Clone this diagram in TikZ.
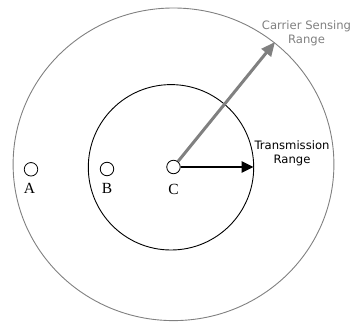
\documentclass[tikz,border=0pt]{standalone}
\usepackage{fontspec}
\setmainfont{Liberation Serif}
\newfontfamily\dejavu{DejaVu Sans}
\usetikzlibrary{arrows.meta}
\definecolor{midgray}{RGB}{128,128,128}
\tikzset{
  station/.style={circle,draw=black,line width=0.8pt,fill=white,minimum size=13.5pt,inner sep=0pt},
  stlabel/.style={font=\fontsize{15.5}{15.5}\selectfont,inner sep=0pt},
  rangelabel/.style={font=\dejavu\fontsize{11.6}{14}\selectfont,align=center,inner sep=0pt}
}
\begin{document}
\begin{tikzpicture}[x=1pt,y=-1pt]
\useasboundingbox (0,0) rectangle (352,321);
\draw[midgray,line width=0.9pt] (173.5,164.3) ellipse [x radius=160.4, y radius=156.3];
\draw[black,line width=0.9pt] (171,167.3) circle [radius=82.7];
\node[station] (A) at (31,169.3) {};
\node[station] (B) at (107,169) {};
\node[station] (C) at (173.5,167) {};
\node[stlabel] (la) at (29.5,188.5) {A};
\node[stlabel] (lb) at (107,188.5) {B};
\node[stlabel] (lc) at (173.5,189.5) {C};
\coordinate (gt) at (275,42);
\coordinate (bt) at (253.5,167);
\draw[midgray,line width=3pt,-{Triangle[length=14pt,width=12pt]}] (C) -- (gt);
\draw[black,line width=2.5pt,-{Triangle[length=12pt,width=11pt]}] (C) -- (bt);
\node[rangelabel,text=midgray] (csr) at (306.5,33) {Carrier Sensing\\Range};
\node[rangelabel,text=black] (tr) at (292,153.5) {Transmission\\Range};
\end{tikzpicture}
\end{document}
